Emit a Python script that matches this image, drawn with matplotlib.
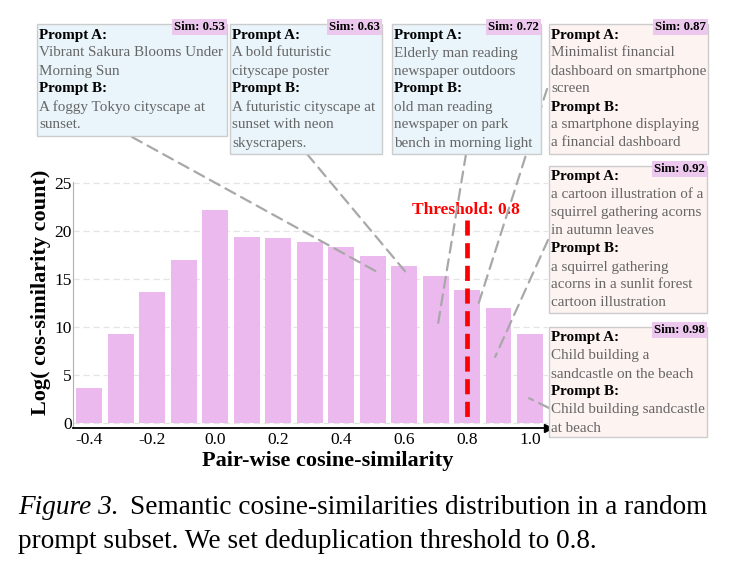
import matplotlib
matplotlib.use("Agg")
import matplotlib.pyplot as plt
from matplotlib.patches import Rectangle, ConnectionPatch

# similarity bins and log counts
binCenters = [-0.4, -0.3, -0.2, -0.1, 0.0, 0.1, 0.2, 0.3, 0.4, 0.5, 0.6, 0.7, 0.8, 0.9, 1.0]
logCounts = [3.7, 9.3, 13.7, 17.0, 22.2, 19.4, 19.3, 18.9, 18.3, 17.4, 16.4, 15.3, 13.9, 12.0, 9.3]
xTicks = [-0.4, -0.2, 0.0, 0.2, 0.4, 0.6, 0.8, 1.0]
yTicks = [0, 5, 10, 15, 20, 25]
threshold = 0.8
thresholdTop = 21.1

# example prompt pairs
sims = ["0.53", "0.63", "0.72", "0.87", "0.92", "0.98"]
promptA = [
    ["Vibrant Sakura Blooms Under", "Morning Sun"],
    ["A bold futuristic", "cityscape poster"],
    ["Elderly man reading", "newspaper outdoors"],
    ["Minimalist financial", "dashboard on smartphone", "screen"],
    ["a cartoon illustration of a", "squirrel gathering acorns", "in autumn leaves"],
    ["Child building a", "sandcastle on the beach"],
]
promptB = [
    ["A foggy Tokyo cityscape at", "sunset."],
    ["A futuristic cityscape at", "sunset with neon", "skyscrapers."],
    ["old man reading", "newspaper on park", "bench in morning light"],
    ["a smartphone displaying", "a financial dashboard"],
    ["a squirrel gathering", "acorns in a sunlit forest", "cartoon illustration"],
    ["Child building sandcastle", "at beach"],
]
# where each connector points on the chart (data coords)
pointsTo = [(0.511, 15.8), (0.603, 15.8), (0.708, 10.4), (0.832, 12.0), (0.889, 6.9), (0.997, 2.6)]

# layout in figure pixels (top-left origin): box x0, y0, x1, y1 and connector start
W, H = 735, 567
boxes = [(37, 24, 227, 136), (230, 24, 382, 154), (392, 24, 541, 154),
         (549, 24, 708, 154), (549, 166, 707, 313), (549, 327, 707, 437)]
lineStarts = [(132, 137), (307, 154), (466, 154), (547, 89), (548, 240), (549, 408)]
boxColors = ['#e9f5fa', '#e9f5fa', '#e9f5fa', '#fdf3f1', '#fdf3f1', '#fdf3f1']

serif = ['Liberation Serif', 'DejaVu Serif']
plt.rcParams['font.family'] = serif

fig = plt.figure(figsize=(7.35, 5.67), dpi=100)
ax = fig.add_axes([73 / W, 1 - 428 / H, (548 - 73) / W, (428 - 182) / H])

ax.bar(binCenters, logCounts, width=0.082, color='#ebb9ee', zorder=2)
ax.set_xlim(-0.452, 1.057)
ax.set_ylim(-0.5, 25.1)
ax.set_xticks(xTicks)
ax.set_xticklabels([f"{t:.1f}" for t in xTicks])
ax.set_yticks(yTicks)
ax.tick_params(axis='both', length=0, labelsize=12.5, pad=3)
ax.tick_params(axis='y', pad=1)
for y in yTicks:
    ax.axhline(y, color='#e4e4e4', lw=0.9, ls=(0, (5, 3)), zorder=1)
ax.spines['top'].set_visible(False)
ax.spines['right'].set_visible(False)
ax.spines['left'].set_color('#b0b0b0')
ax.spines['left'].set_bounds(-0.5, 25.1)
ax.spines['bottom'].set_color('black')
ax.spines['bottom'].set_linewidth(1.3)
ax.plot(1, 0, '>k', ms=6, transform=ax.transAxes, clip_on=False)

# threshold line drawn top-down so the dash pattern starts at the top
ax.plot([threshold, threshold], [thresholdTop, 0], color='red', lw=3.4,
        dashes=(3.2, 1.6), zorder=4)
ax.text(threshold - 0.005, thresholdTop + 1.1, f"Threshold: {threshold}", color='red',
        fontsize=12.5, fontweight='bold', ha='center', va='center', zorder=5)

fig.text(328 / W, 1 - 461 / H, "Pair-wise cosine-similarity", fontsize=16,
         fontweight='bold', ha='center', va='center')
fig.text(41 / W, 1 - 292 / H, "Log( cos-similarity count)", fontsize=16,
         fontweight='bold', ha='center', va='center', rotation=90)

# connectors
for (sx, sy), (px, py) in zip(lineStarts, pointsTo):
    con = ConnectionPatch(xyA=(sx, H - sy), coordsA='figure pixels',
                          xyB=(px, py), coordsB=ax.transData,
                          color='#a8a8a8', lw=1.6, ls=(0, (5, 3)), zorder=6)
    fig.add_artist(con)

# prompt boxes
lineH = 18
for i, (x0, y0, x1, y1) in enumerate(boxes):
    fig.add_artist(Rectangle((x0 / W, 1 - y1 / H), (x1 - x0) / W, (y1 - y0) / H,
                             transform=fig.transFigure, facecolor=boxColors[i],
                             edgecolor='#cccccc', lw=1, zorder=7))
    rows = [("Prompt A:", True)] + [(s, False) for s in promptA[i]] + \
           [("Prompt B:", True)] + [(s, False) for s in promptB[i]]
    for k, (s, bold) in enumerate(rows):
        fig.text((x0 + 2) / W, 1 - (y0 + 11 + k * lineH) / H, s, fontsize=10.9,
                 fontweight='bold' if bold else 'normal',
                 color='black' if bold else '#666666', ha='left', va='center', zorder=8)
    fig.text((x1 - 2) / W, 1 - (y0 + 3) / H, f"Sim: {sims[i]}", fontsize=9.2,
             fontweight='bold', ha='right', va='center', zorder=9,
             bbox=dict(boxstyle='square,pad=0.15', fc='#ecc8ef', ec='none'))

# caption
capSize = 19.6
cap1 = fig.text(18 / W, 1 - 507 / H, "Figure 3.", fontsize=capSize, style='italic',
                ha='left', va='center')
fig.canvas.draw()
bb = cap1.get_window_extent()
fig.text((bb.x1 + 11) / W, 1 - 507 / H,
         "Semantic cosine-similarities distribution in a random",
         fontsize=capSize, ha='left', va='center')
fig.text(18 / W, 1 - 541 / H, "prompt subset. We set deduplication threshold to 0.8.",
         fontsize=capSize, ha='left', va='center')

fig.savefig("out.png", dpi=100)
